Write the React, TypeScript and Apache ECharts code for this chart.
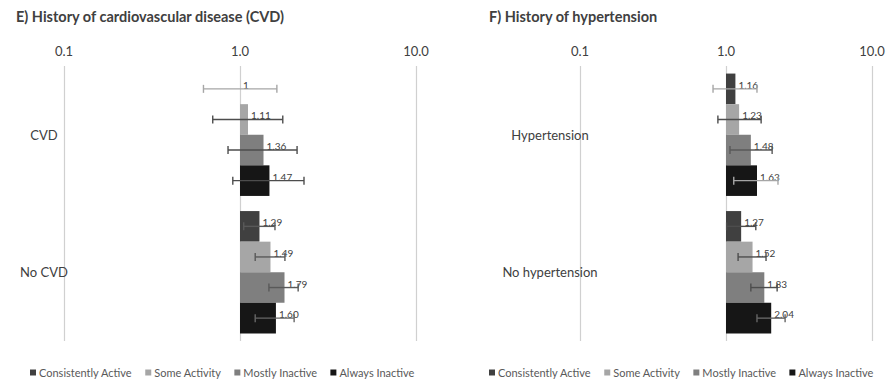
import React, { useEffect, useRef } from "react";
import * as echarts from "echarts";

const seriesNames = ["Consistently Active", "Some Activity", "Mostly Inactive", "Always Inactive"];
const seriesColors = ["#404040", "#a6a6a6", "#7f7f7f", "#161616"];

const catsE = ["CVD", "No CVD"];
const catsF = ["Hypertension", "No hypertension"];

// values per series: [category 0, category 1]
const valuesE = [
  [1.0, 1.29],
  [1.11, 1.49],
  [1.36, 1.79],
  [1.47, 1.6],
];
const lowE = [
  [0.62, 1.05],
  [0.7, 1.22],
  [0.855, 1.46],
  [0.91, 1.22],
];
const highE = [
  [1.62, 1.58],
  [1.75, 1.8],
  [2.11, 2.14],
  [2.31, 2.03],
];

const valuesF = [
  [1.16, 1.27],
  [1.23, 1.52],
  [1.48, 1.83],
  [1.63, 2.04],
];
const lowF = [
  [0.815, 1.01],
  [0.88, 1.21],
  [1.065, 1.48],
  [1.13, 1.63],
];
const highF = [
  [1.63, 1.6],
  [1.74, 1.88],
  [2.07, 2.24],
  [2.27, 2.54],
];

const errColorsE = [
  ["#a6a6a6", "#595959"],
  ["#4d4d4d", "#595959"],
  ["#4d4d4d", "#595959"],
  ["#4d4d4d", "#666666"],
];
const errColorsF = [
  ["#a6a6a6", "#4d4d4d"],
  ["#4d4d4d", "#4d4d4d"],
  ["#595959", "#4d4d4d"],
  ["#a6a6a6", "#666666"],
];

const tickLabels: Record<string, string> = { "0.1": "0.1", "1": "1.0", "10": "10.0" };

const titleE = "E) History of cardiovascular disease (CVD)";
const titleF = "F) History of hypertension";

const FONT = "Lato, 'Open Sans', sans-serif";
const GAP = 0.11;

function errorSeries(lows: number[][], highs: number[][], colors: string[][], axis: number) {
  const data: number[][] = [];
  const cols: string[] = [];
  for (let s = 0; s < lows.length; s++) {
    for (let c = 0; c < lows[s].length; c++) {
      data.push([c, lows[s][c], highs[s][c], s]);
      cols.push(colors[s][c]);
    }
  }
  return {
    type: "custom",
    xAxisIndex: axis,
    yAxisIndex: axis,
    silent: true,
    z: 5,
    encode: { x: [1, 2], y: 0 },
    data,
    renderItem: (params: any, api: any) => {
      const cat = api.value(0);
      const lo = api.value(1);
      const hi = api.value(2);
      const s = api.value(3);
      const band = api.size([1, 1])[1];
      const bw = (band * (1 - GAP)) / 4;
      const p1 = api.coord([lo, cat]);
      const p2 = api.coord([hi, cat]);
      const y = p1[1] + (s - 1.5) * bw;
      const color = cols[params.dataIndex];
      const style = { stroke: color, lineWidth: 1.4 };
      const cap = 4;
      return {
        type: "group",
        children: [
          { type: "line", shape: { x1: p1[0], y1: y, x2: p2[0], y2: y }, style },
          { type: "line", shape: { x1: p1[0], y1: y - cap, x2: p1[0], y2: y + cap }, style },
          { type: "line", shape: { x1: p2[0], y1: y - cap, x2: p2[0], y2: y + cap }, style },
        ],
      };
    },
  };
}

function barSeries(values: number[][], axis: number) {
  return values.map((vals, s) => ({
    type: "bar",
    name: seriesNames[s],
    xAxisIndex: axis,
    yAxisIndex: axis,
    data: vals,
    barGap: "0%",
    barCategoryGap: GAP * 100 + "%",
    itemStyle: { color: seriesColors[s] },
    z: 2,
    label: {
      show: true,
      position: "right",
      distance: 3,
      offset: [0, -4],
      fontSize: 10,
      fontFamily: FONT,
      color: "#404040",
      formatter: (p: any) => (p.value === 1 ? "1" : Number(p.value).toFixed(2)),
    },
  }));
}

function xAxis(grid: number) {
  return {
    type: "log",
    gridIndex: grid,
    logBase: 10,
    min: 0.1,
    max: 10,
    position: "top",
    axisLine: { show: false },
    axisTick: { show: false },
    axisLabel: {
      fontSize: 13,
      fontFamily: FONT,
      color: "#404040",
      margin: 9,
      formatter: (v: number) => tickLabels[String(v)] ?? v.toFixed(1),
    },
    splitLine: { show: true, lineStyle: { color: "#d0d0d0", width: 1.2 } },
  };
}

function yAxis(grid: number, cats: string[], margin: number) {
  return {
    type: "category",
    gridIndex: grid,
    data: cats,
    inverse: true,
    axisLine: { show: false },
    axisTick: { show: false },
    axisLabel: {
      fontSize: 13,
      fontFamily: FONT,
      color: "#404040",
      align: "center",
      margin,
    },
  };
}

function legend(left: number) {
  return {
    data: seriesNames,
    left,
    top: 362,
    icon: "rect",
    itemWidth: 6,
    itemHeight: 6,
    itemGap: 13,
    textStyle: { fontSize: 11, fontFamily: FONT, color: "#595959", padding: [0, 0, 0, -2] },
  };
}

export default function App() {
  const ref = useRef<HTMLDivElement>(null);
  useEffect(() => {
    if (!ref.current) return;
    const chart = echarts.init(ref.current, null, { renderer: "svg" });
    chart.setOption({
      animation: false,
      backgroundColor: "#ffffff",
      title: [
        {
          text: titleE,
          left: 11,
          top: 4,
          textStyle: { fontSize: 14.5, fontWeight: "bold", fontFamily: FONT, color: "#404040" },
        },
        {
          text: titleF,
          left: 484,
          top: 4,
          textStyle: { fontSize: 14.5, fontWeight: "bold", fontFamily: FONT, color: "#404040" },
        },
      ],
      legend: [legend(25), legend(484)],
      grid: [
        { left: 64, width: 352, top: 66, height: 275 },
        { left: 580, width: 292, top: 66, height: 275 },
      ],
      xAxis: [xAxis(0), xAxis(1)],
      yAxis: [yAxis(0, catsE, 20), yAxis(1, catsF, 30)],
      series: [
        ...barSeries(valuesE, 0),
        ...barSeries(valuesF, 1),
        errorSeries(lowE, highE, errColorsE, 0),
        errorSeries(lowF, highF, errColorsF, 1),
      ],
    });
    return () => chart.dispose();
  }, []);
  return <div ref={ref} style={{ width: 895, height: 388, margin: -8 }} />;
}
